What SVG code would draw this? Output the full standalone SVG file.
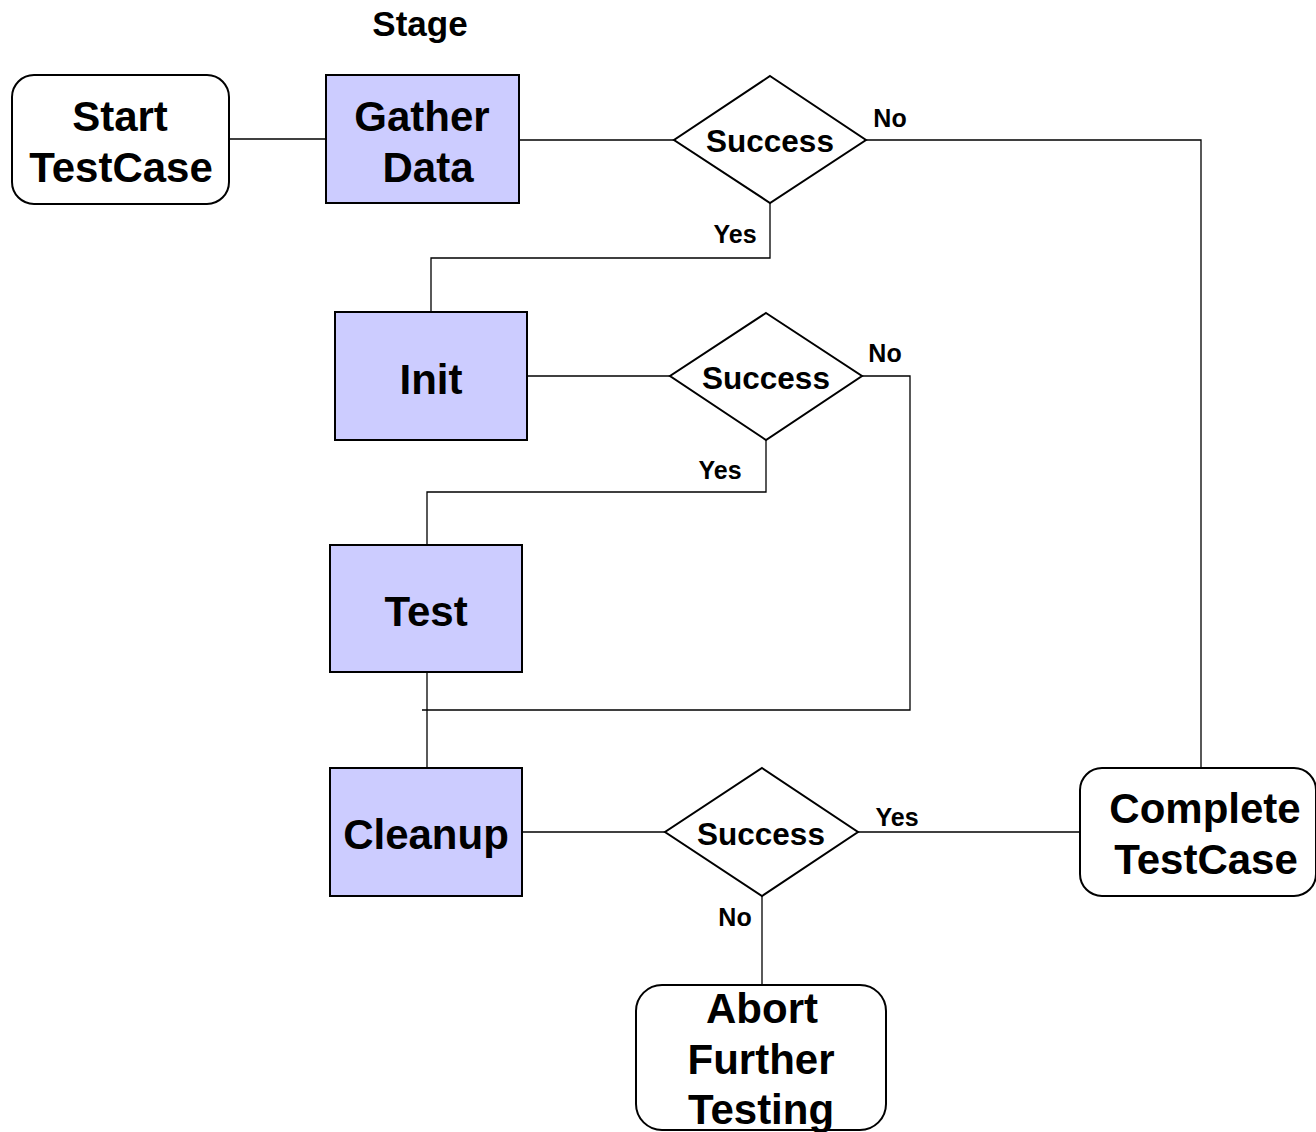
<svg xmlns="http://www.w3.org/2000/svg" width="1316" height="1132" viewBox="0 0 1316 1132">
<style>
text{font-family:"Liberation Sans",Arial,sans-serif;font-weight:bold;fill:#000;text-anchor:middle}
.big{font-size:42px}
.dec{font-size:31.5px}
.lbl{font-size:25px}
.stage{font-size:35px}
.term{fill:#fff;stroke:#000;stroke-width:2}
.proc{fill:#ccccff;stroke:#000;stroke-width:2}
.dia{fill:#fff;stroke:#000;stroke-width:2}
.conn{fill:none;stroke:#000;stroke-width:1.3}
</style>
<rect width="1316" height="1132" fill="#fff"/>
<text class="stage" x="420" y="36">Stage</text>
<g id="connectors">
<path class="conn" d="M229 139H326"/>
<path class="conn" d="M519 140H674"/>
<path class="conn" d="M866 140H1201V768"/>
<path class="conn" d="M770 203V258H431V312"/>
<path class="conn" d="M527 376H670"/>
<path class="conn" d="M862 376H910V710H422"/>
<path class="conn" d="M766 440V492H427V545"/>
<path class="conn" d="M427 672V768"/>
<path class="conn" d="M522 832H665"/>
<path class="conn" d="M858 832H1080"/>
<path class="conn" d="M762 896V985"/>
</g>
<g id="start">
<rect class="term" x="12" y="75" width="217" height="129" rx="22"/>
<text class="big" x="120" y="131">Start</text>
<text class="big" x="121" y="182">TestCase</text>
</g>
<g id="gather">
<rect class="proc" x="326" y="75" width="193" height="128"/>
<text class="big" x="422" y="131">Gather</text>
<text class="big" x="428" y="182">Data</text>
</g>
<g id="success1">
<polygon class="dia" points="770,76 866,140 770,203 674,140"/>
<text class="dec" x="770" y="152">Success</text>
<text class="lbl" x="890" y="127">No</text>
<text class="lbl" x="735" y="243">Yes</text>
</g>
<g id="init">
<rect class="proc" x="335" y="312" width="192" height="128"/>
<text class="big" x="431" y="394">Init</text>
</g>
<g id="success2">
<polygon class="dia" points="766,313 862,376 766,440 670,376"/>
<text class="dec" x="766" y="389">Success</text>
<text class="lbl" x="885" y="362">No</text>
<text class="lbl" x="720" y="479">Yes</text>
</g>
<g id="test">
<rect class="proc" x="330" y="545" width="192" height="127"/>
<text class="big" x="426" y="626">Test</text>
</g>
<g id="cleanup">
<rect class="proc" x="330" y="768" width="192" height="128"/>
<text class="big" x="426" y="849">Cleanup</text>
</g>
<g id="success3">
<polygon class="dia" points="762,768 858,832 762,896 665,832"/>
<text class="dec" x="761" y="845">Success</text>
<text class="lbl" x="897" y="826">Yes</text>
<text class="lbl" x="735" y="926">No</text>
</g>
<g id="complete">
<rect class="term" x="1080" y="768" width="236" height="128" rx="22"/>
<text class="big" x="1205" y="823">Complete</text>
<text class="big" x="1206" y="874">TestCase</text>
</g>
<g id="abort">
<rect class="term" x="636" y="985" width="250" height="145" rx="26"/>
<text class="big" x="762" y="1023">Abort</text>
<text class="big" x="761" y="1074">Further</text>
<text class="big" x="761" y="1124">Testing</text>
</g>
</svg>
